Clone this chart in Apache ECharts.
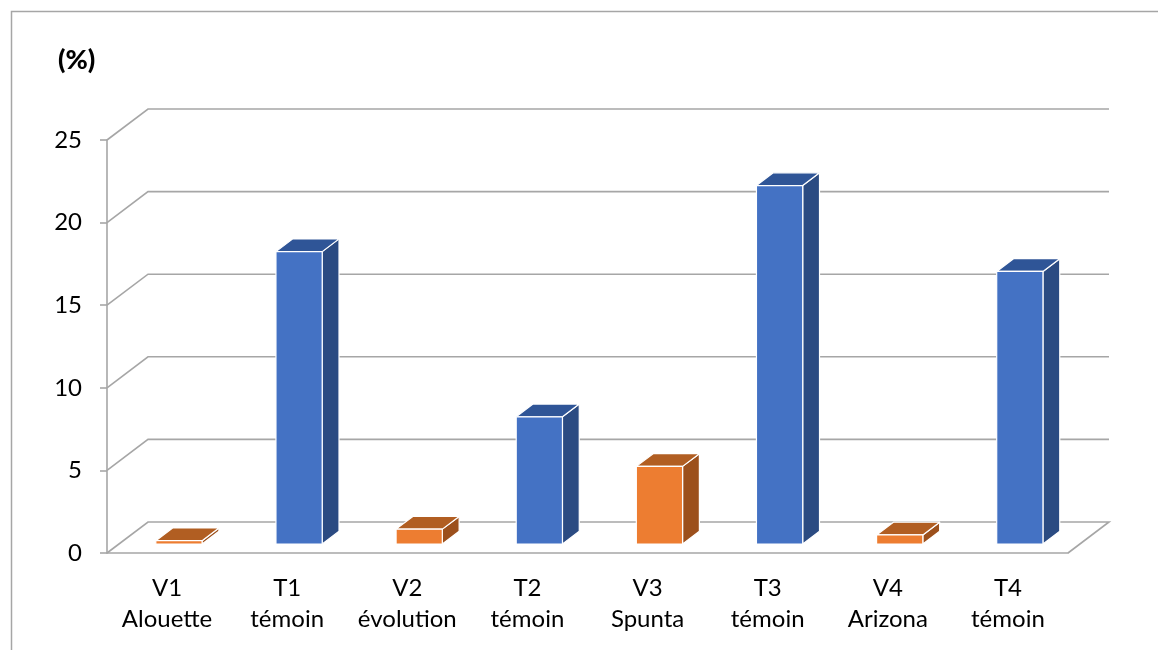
<!DOCTYPE html>
<html><head><meta charset="utf-8">
<script src="https://cdn.jsdelivr.net/npm/echarts@6/dist/echarts.min.js"></script>
<style>html,body{margin:0;padding:0;background:#fff}#c{width:1158px;height:650px}</style>
</head><body><div id="c"></div>
<script>
const categories = ['V1\nAlouette','T1\ntémoin','V2\névolution','T2\ntémoin','V3\nSpunta','T3\ntémoin','V4\nArizona','T4\ntémoin'];
const values = [0.2, 17.7, 0.9, 7.7, 4.7, 21.7, 0.55, 16.5];
const groups = ['v','t','v','t','v','t','v','t'];
const yTicks = [0, 5, 10, 15, 20, 25];
const unitLabel = '(%)';

const palette = {
  t: {front:'#4472C4', top:'#2F5597', side:'#2B4B82'},
  v: {front:'#ED7D31', top:'#B15E22', side:'#9C501C'}
};
const DX = 41, DY = -31, D0 = 0.29, D1 = 0.70;
const FONT = 'Lato';
const GRID_COLOR = '#a6a6a6';

function renderWall(params, api){
  const v = api.value(1);
  const cs = params.coordSys;
  const y = api.coord([0, v])[1];
  const x0 = cs.x, x1 = cs.x + cs.width;
  const pts = [[x0, y], [x0 + DX, y + DY], [x1 + DX, y + DY]];
  if (v === 0) pts.push([x1, y]);
  return {type:'polyline', shape:{points:pts}, style:{stroke:GRID_COLOR, lineWidth:1.6, fill:null}};
}

function renderBar(params, api){
  const i = api.value(0), v = api.value(1);
  const base = api.coord([i, 0]), top = api.coord([i, v]);
  const bw = api.size([1, 0])[0] * 0.385;
  const ox = D0 * DX, oy = D0 * DY, ddx = (D1 - D0) * DX, ddy = (D1 - D0) * DY;
  const xl = base[0] + ox - bw / 2, xr = xl + bw;
  const yb = base[1] + oy, yt = top[1] + oy;
  const c = palette[groups[i]];
  const st = {stroke:'#ffffff', lineWidth:1.2, lineJoin:'round'};
  return {type:'group', children:[
    {type:'polygon', shape:{points:[[xr,yb],[xr+ddx,yb+ddy],[xr+ddx,yt+ddy],[xr,yt]]}, style:Object.assign({fill:c.side}, st)},
    {type:'polygon', shape:{points:[[xl,yt],[xr,yt],[xr+ddx,yt+ddy],[xl+ddx,yt+ddy]]}, style:Object.assign({fill:c.top}, st)},
    {type:'rect', shape:{x:xl, y:yt, width:bw, height:yb-yt}, style:Object.assign({fill:c.front}, st)}
  ]};
}

const chart = echarts.init(document.getElementById('c'), null, {renderer:'canvas'});
chart.setOption({
  animation:false,
  backgroundColor:'#ffffff',
  textStyle:{fontFamily:FONT},
  graphic:[{type:'rect', left:9, top:9, shape:{width:1300, height:800}, style:{fill:null, stroke:'#a6a6a6', lineWidth:1.5}, z:-10}],
  title:{text:unitLabel, left:53, top:42, textStyle:{fontFamily:FONT, fontSize:27, fontWeight:900, color:'#000'}},
  grid:{left:107, right:90, top:140, bottom:97},
  xAxis:{
    type:'category', data:categories,
    axisLine:{lineStyle:{color:GRID_COLOR, width:1.6}},
    axisTick:{length:9, lineStyle:{color:GRID_COLOR, width:1.6}},
    axisLabel:{color:'#000', fontSize:24, lineHeight:31, margin:20, fontFamily:FONT, interval:0, hideOverlap:false}
  },
  yAxis:{
    type:'value', min:0, max:25, interval:5,
    axisLine:{show:true, lineStyle:{color:GRID_COLOR, width:1.6}},
    axisTick:{show:true, length:7, lineStyle:{color:GRID_COLOR, width:1.6}},
    splitLine:{show:false},
    axisLabel:{color:'#000', fontSize:24, margin:25, fontFamily:FONT}
  },
  series:[
    {type:'custom', renderItem:renderWall, data:yTicks.map(v => [0, v]), encode:{x:0, y:1}, z:1, silent:true},
    {type:'custom', renderItem:renderBar, data:values.map((v, i) => [i, v]), encode:{x:0, y:1}, z:2}
  ]
});
</script></body></html>
